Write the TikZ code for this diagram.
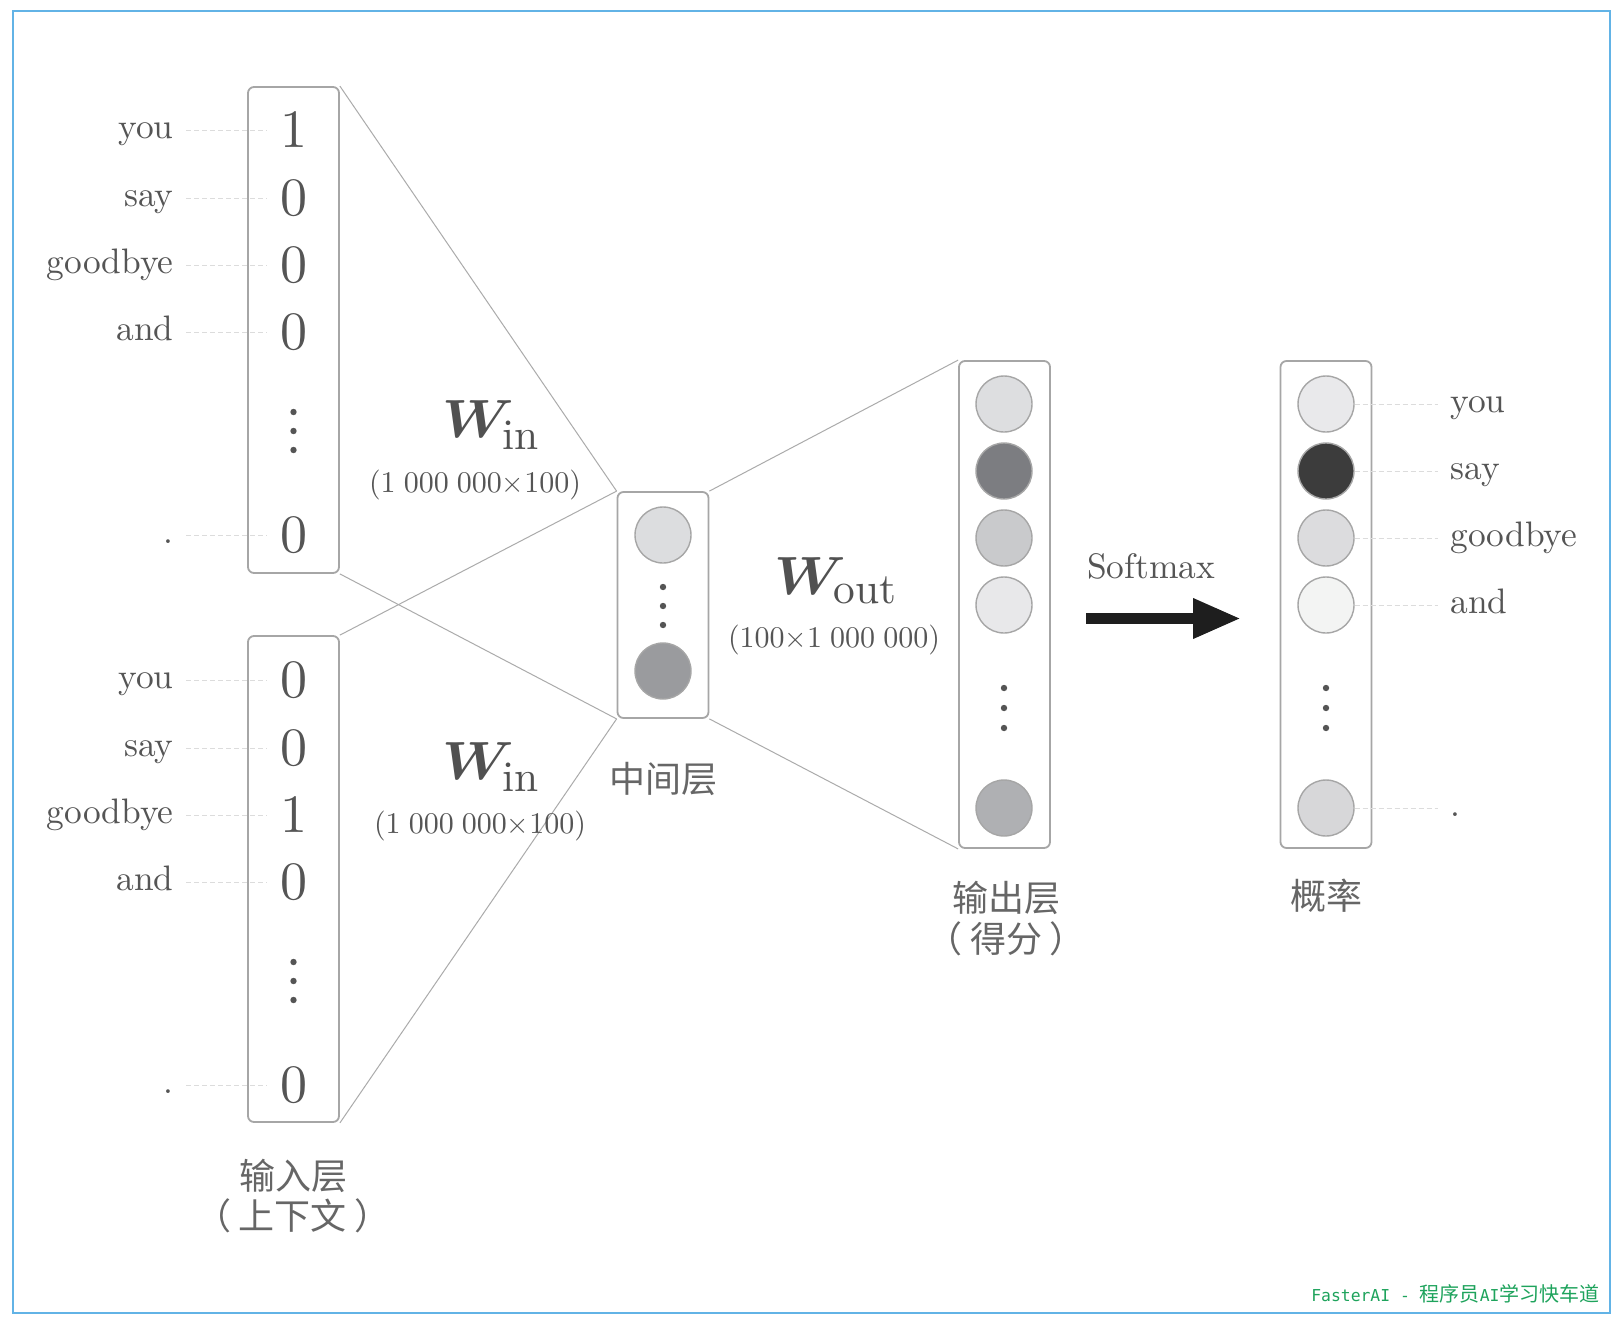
\documentclass[tikz,border=0pt]{standalone}
\usepackage{fontspec}
\usepackage{bm}
\setmainfont{lmroman10-regular.otf}[BoldFont=lmroman10-bold.otf, ItalicFont=lmroman10-italic.otf, BoldItalicFont=lmroman10-bolditalic.otf]
\newfontfamily\cjk{Noto Sans CJK SC}
\newfontfamily\wmfont{DejaVu Sans Mono}
\usepackage{tikz}
\usetikzlibrary{arrows.meta,positioning}
\definecolor{ink}{HTML}{555555}
\definecolor{cjkink}{HTML}{666666}
\definecolor{rim}{HTML}{A6A6A6}
\definecolor{wirecol}{HTML}{ABABAB}
\definecolor{guidecol}{HTML}{DCDCDC}
\definecolor{frameblue}{HTML}{62B3E6}
\definecolor{wmgreen}{HTML}{1EA35C}
\definecolor{arrowblack}{HTML}{1E1E1E}
\definecolor{hidA}{HTML}{DCDDDF}
\definecolor{hidB}{HTML}{9A9B9E}
\definecolor{outA}{HTML}{DDDEE0}
\definecolor{outB}{HTML}{7C7D81}
\definecolor{outC}{HTML}{C9CACC}
\definecolor{outD}{HTML}{E8E8EA}
\definecolor{outE}{HTML}{AFB0B3}
\definecolor{prA}{HTML}{E9E9EB}
\definecolor{prB}{HTML}{3C3C3C}
\definecolor{prC}{HTML}{DCDCDE}
\definecolor{prD}{HTML}{F3F4F3}
\definecolor{prE}{HTML}{D7D7D9}
\newcommand{\wmat}[1]{{\scalebox{1.15}[1.08]{$\bm{W}$}\kern-6pt}_{\mathrm{#1}}}
\newcommand{\gsp}{\kern0.27em}
\tikzset{
	vecbox/.style={
		draw=rim, line width=0.9pt, rounded corners=3pt,
		fill=white, minimum width=45.5pt, inner sep=0pt
	},
	digit/.style={
		text=ink, font=\fontsize{27}{30}\selectfont,
		minimum width=26.5pt, inner sep=0pt
	},
	word/.style={
		text=ink, font=\fontsize{17.7}{20}\selectfont,
		inner ysep=0pt, inner xsep=6pt, text height=12.2pt, text depth=3.4pt
	},
	unit/.style={circle, draw=rim, line width=0.7pt, minimum size=28pt, inner sep=0pt},
	wire/.style={draw=wirecol, line width=0.5pt},
	guide/.style={draw=guidecol, line width=0.5pt, dash pattern=on 2.5pt off 1.5pt},
	wlabel/.style={text=ink!95!black, font=\fontsize{31}{35}\selectfont, inner sep=0pt},
	dimlabel/.style={text=ink, font=\fontsize{15}{17}\selectfont, inner sep=0pt},
	layername/.style={text=cjkink, font=\cjk\fontsize{18}{20.25}\selectfont, align=center, inner sep=0pt},
	bigarrow/.style={draw=arrowblack, line width=5.65pt, -{Triangle[length=24pt,width=18.7pt]}}
}
\begin{document}
\begin{tikzpicture}[x=0.5pt,y=-0.5pt]
	\fill[white] (0,0) rectangle (1622,1328);
	\useasboundingbox (0,0) rectangle (1622,1328);
	\draw[frameblue, line width=1.2pt] (13,11) rectangle (1610,1313);
	\node[vecbox, minimum height=243pt] (inA) at (293.5,330) {};
	\node[vecbox, minimum height=243pt] (inB) at (293.5,879) {};
	\node[vecbox, minimum height=113pt] (hid) at (663,605) {};
	\node[vecbox, minimum height=243.5pt] (outp) at (1004.5,604.5) {};
	\node[vecbox, minimum height=243.5pt] (prob) at (1326,604.5) {};
	\draw[wire] (inA.north east) -- (hid.north west);
	\draw[wire] (inA.south east) -- (hid.south west);
	\draw[wire] (inB.north east) -- (hid.north west);
	\draw[wire] (inB.south east) -- (hid.south west);
	\draw[wire] (hid.north east) -- (outp.north west);
	\draw[wire] (hid.south east) -- (outp.south west);
	\foreach \y/\w/\d [count=\i] in {130/you/1,198/say/0,265/goodbye/0,332/and/0,535/./0}{
		\node[digit] (a\i) at (293.5,\y) {\d};
		\node[word, anchor=east] (aw\i) at (186,\y) {\w};
		\draw[guide] (aw\i.east) -- (a\i.west);
	}
	\foreach \y/\w/\d [count=\i] in {680/you/0,748/say/0,815/goodbye/1,882/and/0,1085/./0}{
		\node[digit] (b\i) at (293.5,\y) {\d};
		\node[word, anchor=east] (bw\i) at (186,\y) {\w};
		\draw[guide] (bw\i.east) -- (b\i.west);
	}
	\node[unit, fill=hidA] (h1) at (663,535) {};
	\node[unit, fill=hidB] (h2) at (663,671) {};
	\foreach \y/\c [count=\i] in {404/outA,471/outB,538/outC,605/outD,808/outE}
		\node[unit, fill=\c] (o\i) at (1004,\y) {};
	\foreach \y/\c/\w [count=\i] in {404/prA/you,471/prB/say,538/prC/goodbye,605/prD/and,808/prE/.}{
		\node[unit, fill=\c] (p\i) at (1326,\y) {};
		\node[word, anchor=west] (pw\i) at (1438,\y) {\w};
		\draw[guide] (p\i.east) -- (pw\i.west);
	}
	\foreach \x/\y/\s in {293.5/412/19,293.5/962/19,663/587/19,1004/688/20,1326/688/20}
		\foreach \k in {0,1,2}
			\fill[ink] (\x,{\y+\s*\k}) circle (1.6pt);
	\node[wlabel] (winA) at (491,425) {$\wmat{in}$};
	\node[dimlabel] (dimA) at (475,485) {(1\gsp000\gsp000$\times$100)};
	\node[wlabel] (winB) at (491,767) {$\wmat{in}$};
	\node[dimlabel] (dimB) at (480,826) {(1\gsp000\gsp000$\times$100)};
	\node[wlabel] (wout) at (836,581) {$\wmat{out}$};
	\node[dimlabel] (dimC) at (834,640) {(100$\times$1\gsp000\gsp000)};
	\node[word] (smx) at (1151,570) {Softmax};
	\coordinate (smA) at (1086,618.5);
	\coordinate (smB) at (1241,618.5);
	\draw[bigarrow] (smA) -- (smB);
	\node[layername] (inname) at (293,1196) {输入层\\（\kern4pt 上下文\kern4pt ）};
	\node[layername] (hidname) at (663,779) {中间层};
	\node[layername] (outname) at (1006,918.5) {输出层\\（\kern4pt 得分\kern4pt ）};
	\node[layername] (probname) at (1326,896) {概率};
	\node[anchor=east, text=wmgreen, inner sep=0pt] (wm) at (1600,1294)
		{\wmfont\fontsize{8.2}{10}\selectfont FasterAI - {\cjk\fontsize{10}{12}\selectfont 程序员}AI{\cjk\fontsize{10}{12}\selectfont 学习快车道}};
\end{tikzpicture}
\end{document}
